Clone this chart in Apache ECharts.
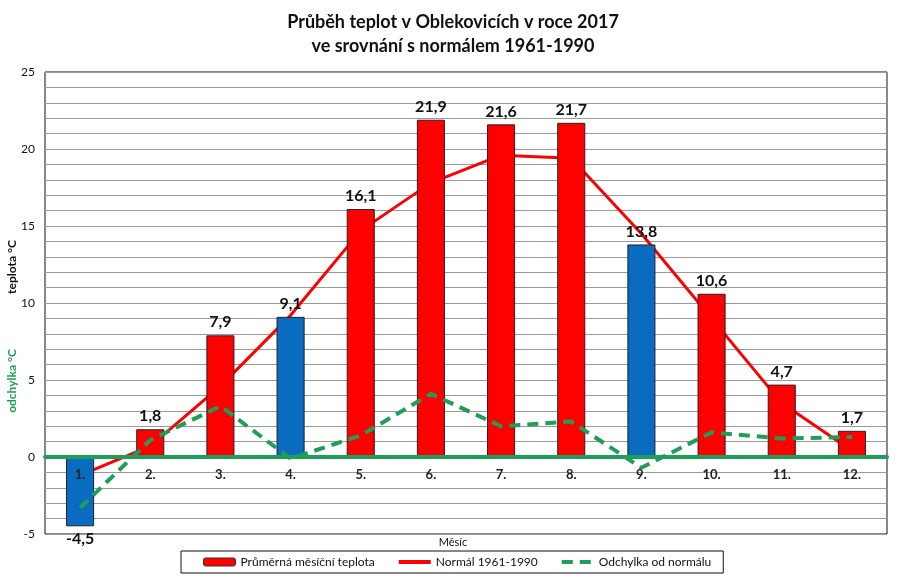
<!DOCTYPE html>
<html>
<head>
<meta charset="utf-8">
<script src="https://cdn.jsdelivr.net/npm/echarts@6/dist/echarts.min.js"></script>
<style>html,body{margin:0;padding:0;background:#fff}#c{width:906px;height:583px}</style>
</head>
<body>
<div id="c"></div>
<script>
var months = ['1.', '2.', '3.', '4.', '5.', '6.', '7.', '8.', '9.', '10.', '11.', '12.'];
var temps = [-4.5, 1.8, 7.9, 9.1, 16.1, 21.9, 21.6, 21.7, 13.8, 10.6, 4.7, 1.7];
var normal = [-1.2, 0.7, 4.6, 9.2, 14.7, 17.8, 19.6, 19.4, 14.5, 9.0, 3.5, 0.4];
var deviation = [-3.3, 1.1, 3.3, -0.1, 1.4, 4.1, 2.0, 2.3, -0.7, 1.6, 1.2, 1.3];
var yTicks = [-5, 0, 5, 10, 15, 20, 25];

var FONT = 'Lato, "Open Sans", sans-serif';
var RED = '#FF0000', BLUE = '#0A6CC0', GREEN = '#1E9E58';

var barData = temps.map(function (v, i) {
  return {
    value: v,
    itemStyle: { color: v < normal[i] ? BLUE : RED },
    label: { position: v < 0 ? 'bottom' : 'top' }
  };
});

var chart = echarts.init(document.getElementById('c'), null, { renderer: 'canvas' });
chart.setOption({
  animation: false,
  backgroundColor: '#fff',
  title: {
    text: 'Průběh teplot v Oblekovicích v roce 2017\nve srovnání s normálem 1961-1990',
    left: 'center',
    top: 5,
    textStyle: { fontFamily: FONT, fontWeight: 'bold', fontSize: 18, lineHeight: 24, color: '#111' }
  },
  grid: {
    left: 45, right: 19, top: 72, bottom: 49,
    show: true, borderColor: '#111', borderWidth: 1, backgroundColor: 'transparent'
  },
  legend: {
    left: 181, top: 551,
    padding: [5, 12, 5, 22],
    itemGap: 22,
    itemWidth: 32, itemHeight: 8,
    borderColor: '#111', borderWidth: 1,
    textStyle: { fontFamily: FONT, fontSize: 12, color: '#111' },
    data: [
      { name: 'Průměrná měsíční teplota', itemStyle: { color: RED, borderColor: '#333', borderWidth: 1 } },
      { name: 'Normál 1961-1990', itemStyle: { opacity: 0 }, lineStyle: { width: 4 } },
      { name: 'Odchylka od normálu', itemStyle: { opacity: 0 }, lineStyle: { width: 4 } }
    ]
  },
  graphic: [
    { type: 'text', left: 'center', top: 537, style: { text: 'Měsíc', font: '11px ' + FONT, fill: '#111' } },
    { type: 'text', x: 12, y: 267, rotation: Math.PI / 2, style: { text: 'teplota °C', font: 'bold 12px ' + FONT, fill: '#111', align: 'center', verticalAlign: 'middle' } },
    { type: 'text', x: 12, y: 381, rotation: Math.PI / 2, style: { text: 'odchylka °C', font: 'bold 12px ' + FONT, fill: GREEN, align: 'center', verticalAlign: 'middle' } }
  ],
  xAxis: {
    type: 'category',
    data: months,
    axisLine: { onZero: true, lineStyle: { color: GREEN, width: 4 } },
    axisTick: { show: false },
    axisLabel: { margin: -66, fontFamily: FONT, fontWeight: 'bold', fontSize: 13, color: '#222' },
    splitLine: { show: false },
    z: 5
  },
  yAxis: {
    type: 'value',
    min: -5, max: 25, interval: 1,
    axisLine: { show: false },
    axisTick: { show: false },
    axisLabel: {
      fontFamily: FONT, fontSize: 12, color: '#111', margin: 10,
      formatter: function (v) { return yTicks.indexOf(v) >= 0 ? String(v) : ''; }
    },
    splitLine: { lineStyle: { color: '#9a9a9a', width: 1 } }
  },
  series: [
    {
      name: 'Průměrná měsíční teplota',
      type: 'bar',
      data: barData,
      barWidth: '40%',
      itemStyle: { color: RED, borderColor: '#222', borderWidth: 1 },
      label: {
        show: true, distance: 5,
        fontFamily: FONT, fontWeight: 'bold', fontSize: 16, color: '#111',
        formatter: function (p) { return String(p.value.toFixed(1)).replace('.', ','); }
      },
      z: 2
    },
    {
      name: 'Normál 1961-1990',
      type: 'line',
      data: normal,
      symbol: 'none',
      lineStyle: { color: RED, width: 3 },
      itemStyle: { color: RED },
      z: 1
    },
    {
      name: 'Odchylka od normálu',
      type: 'line',
      data: deviation,
      symbol: 'none',
      lineStyle: { color: GREEN, width: 4, type: [11, 7] },
      itemStyle: { color: GREEN },
      z: 3
    }
  ]
});
</script>
</body>
</html>
